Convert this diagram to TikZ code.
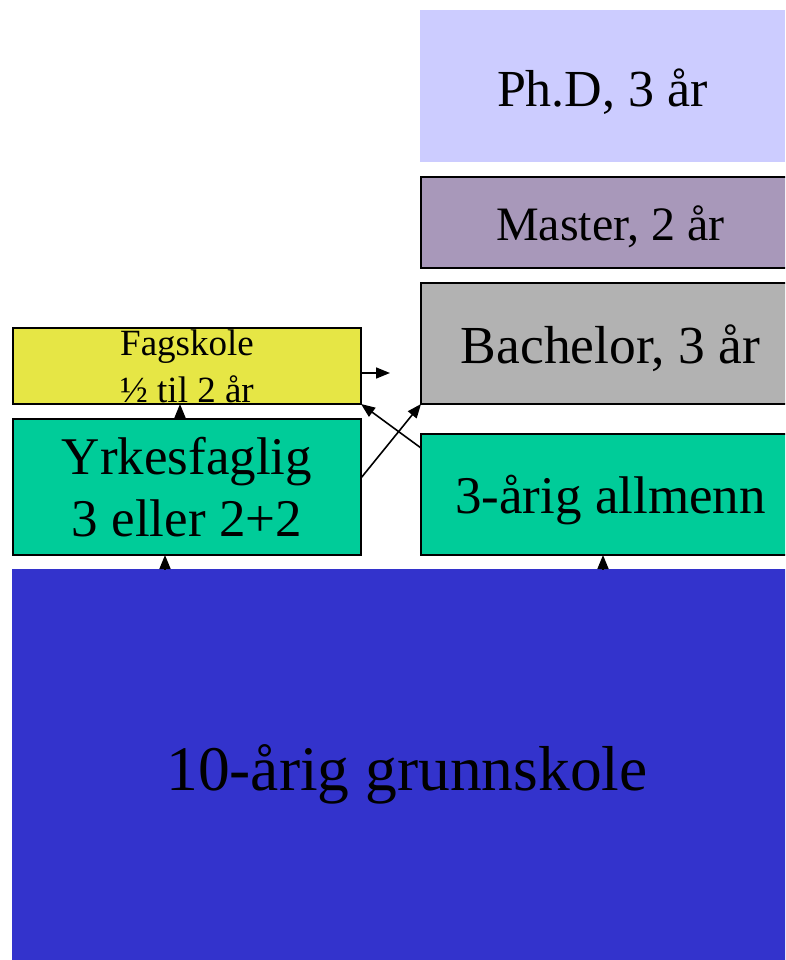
\documentclass[tikz,border=0pt]{standalone}
\usepackage{fontspec}
\setmainfont{Liberation Serif}
\usetikzlibrary{arrows.meta}
\definecolor{phdc}{HTML}{CCCCFF}
\definecolor{masterc}{HTML}{A898BA}
\definecolor{bachc}{HTML}{B2B2B2}
\definecolor{fagc}{HTML}{E6E645}
\definecolor{greenc}{HTML}{00CC99}
\definecolor{bluec}{HTML}{3333CC}
\tikzset{
  box/.style={draw=black, line width=1.4pt, inner sep=0pt, outer sep=0pt, align=center},
  plain/.style={draw=none, inner sep=0pt, outer sep=0pt, align=center},
  arr/.style={line width=1.6pt, -{Triangle[length=14pt,width=11pt]}},
}
\begin{document}
\begin{tikzpicture}[x=1pt,y=-1pt]
\clip (0,0) rectangle (785,960);
\fill[white] (0,0) rectangle (785,960);
% boxes
\node[plain, fill=phdc, minimum width=365pt, minimum height=152pt,
      text height=41.4pt, text depth=0pt,
      font=\fontsize{52}{60}\selectfont] (phd) at (602.5,86) {Ph.D, 3 år};
\node[box, fill=masterc, minimum width=379pt, minimum height=91pt,
      text height=35pt, text depth=0pt,
      font=\fontsize{48}{56}\selectfont] (master) at (610.5,222.5) {Master, 2 år};
\node[box, fill=bachc, minimum width=379pt, minimum height=121pt,
      text height=39.6pt, text depth=0pt,
      font=\fontsize{53.5}{62}\selectfont] (bach) at (610.5,343.5) {Bachelor, 3 år};
\node[box, fill=fagc, minimum width=348pt, minimum height=76pt,
      font=\fontsize{37}{47}\selectfont] (fag) at (187,366) {Fagskole\\½ til 2 år};
\node[box, fill=greenc, minimum width=348pt, minimum height=136pt,
      font=\fontsize{53}{62}\selectfont] (yrk) at (187,487) {Yrkesfaglig\\ 3 eller 2+2};
\node[box, fill=greenc, minimum width=379pt, minimum height=121pt,
      text height=37.6pt, text depth=0pt,
      font=\fontsize{53}{62}\selectfont] (allm) at (610.5,494.5) {3-årig allmenn};
\node[plain, fill=bluec, minimum width=790pt, minimum height=396pt,
      text height=46pt, text depth=0pt,
      font=\fontsize{63.5}{72}\selectfont] (grunn) at (407,767) {10-årig grunnskole};
% helper coordinates
\coordinate (c1) at (165,0);
\coordinate (c2) at (603,0);
\coordinate (c3) at (180,0);
\coordinate (c4) at (0,373);
\coordinate (fagend) at (390,373);
\coordinate (c5) at (0,478);
\coordinate (c6) at (0,448);
% arrows
\draw[arr] (grunn.north -| c1) -- (yrk.south -| c1);
\draw[arr] (grunn.north -| c2) -- (allm.south -| c2);
\draw[arr] (yrk.north -| c3) -- (fag.south -| c3);
\draw[arr] (fag.east |- c4) -- (fagend);
\draw[arr] (yrk.east |- c5) -- (bach.south west);
\draw[arr] (allm.west |- c6) -- (fag.south east);
\end{tikzpicture}
\end{document}
